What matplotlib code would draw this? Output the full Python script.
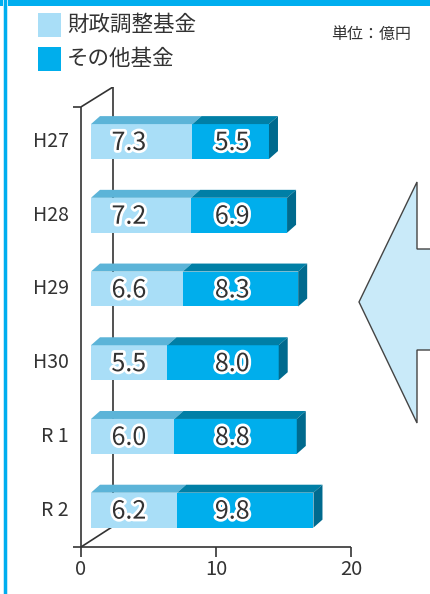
import matplotlib
matplotlib.use("Agg")
import matplotlib.pyplot as plt
from matplotlib.patches import Rectangle, Polygon
import matplotlib.patheffects as pe

plt.rcParams['font.family'] = ['Noto Sans CJK JP', 'DejaVu Sans']

# data (億円)
years = ['H27', 'H28', 'H29', 'H30', 'R 1', 'R 2']
zaisei = [7.3, 7.2, 6.6, 5.5, 6.0, 6.2]     # 財政調整基金
sonota = [5.5, 6.9, 8.3, 8.0, 8.8, 9.8]     # その他基金
series_names = ['財政調整基金', 'その他基金']
xticks = [0, 10, 20]

# colours
light_front = '#a9def7'
light_top = '#5cb4d8'
dark_front = '#00aeec'
dark_top = '#007fa6'
dark_side = '#006a8e'
frame_blue = '#00aeef'
ink = '#333333'

W, H = 430, 594
fig = plt.figure(figsize=(W / 100, H / 100), dpi=100)

# pixel helper for placing axes
def fx(px):
    return px / W

def fy(py):
    return 1 - py / H

# main chart axes: x 0..20 -> px 81..351, y from px 87 (top) to 547 (bottom)
ax = fig.add_axes([fx(81), fy(547), fx(351) - fx(81), fy(87) - fy(547)])
ax.set_xlim(0, 20)
ax.set_ylim(5.5, -0.74)
ax.axis('off')

x0 = 0.74          # front face start
dx, dy = 0.667, 0.108   # depth offset
bh = 0.474         # bar thickness
persp = 1.03       # perspective scale at bar depth
wall_x = 2.37

# 3D frame lines
lk = dict(color=ink, lw=1.2, solid_capstyle='butt', zorder=1)
ax.plot([wall_x, wall_x], [-0.74, 5.22], **lk)
ax.plot([0, wall_x], [-0.47, -0.74], **lk)
ax.plot([0, wall_x], [5.5, 5.22], **lk)
ax.plot([0, 0], [-0.47, 5.5], clip_on=False, **lk)
ax.plot([-0.6, 0], [-0.47, -0.47], clip_on=False, **lk)
ax.plot([-0.6, 20], [5.5, 5.5], clip_on=False, **lk)
for t in xticks:
    ax.plot([t, t], [5.5, 5.5 + 0.135], clip_on=False, **lk)
    ax.text(t, 5.8, str(t), ha='center', va='center', fontsize=14.5, color=ink)

for i, (a, b) in enumerate(zip(zaisei, sonota)):
    yt = i - bh / 2
    segs = [(x0, a * persp, light_front, light_top),
            (x0 + a * persp, b * persp, dark_front, dark_top)]
    for s, w, cf, ct in segs:
        ax.add_patch(Rectangle((s, yt), w, bh, facecolor=cf, edgecolor='none', zorder=3))
        ax.add_patch(Polygon([(s, yt), (s + w, yt), (s + w + dx, yt - dy), (s + dx, yt - dy)],
                             closed=True, facecolor=ct, edgecolor='none', zorder=3))
    xe = x0 + (a + b) * persp
    ax.add_patch(Polygon([(xe, yt), (xe + dx, yt - dy), (xe + dx, yt + bh - dy), (xe, yt + bh)],
                         closed=True, facecolor=dark_side, edgecolor='none', zorder=3))
    fx_ = [pe.withStroke(linewidth=4, foreground='white')]
    ax.text(3.55, i + 0.02, f'{a:.1f}', ha='center', va='center', fontsize=18,
            color=ink, path_effects=fx_, zorder=5)
    ax.text(11.2, i + 0.02, f'{b:.1f}', ha='center', va='center', fontsize=18,
            color=ink, path_effects=fx_, zorder=5)
    ax.text(-0.9, i, years[i], ha='right', va='center', fontsize=14, color=ink)

# overlay in pixel coordinates for frame, legend, arrow
ov = fig.add_axes([0, 0, 1, 1], zorder=-1)
ov.set_xlim(0, W)
ov.set_ylim(H, 0)
ov.axis('off')
ov.add_patch(Rectangle((0, 0), W, 6, facecolor=frame_blue, edgecolor='none'))
ov.add_patch(Rectangle((3, 0), 5, H, facecolor='#bfe9fb', edgecolor='none'))
ov.add_patch(Rectangle((4, 0), 3, H, facecolor=frame_blue, edgecolor='none'))

for k, (name, col) in enumerate(zip(series_names, [light_front, dark_front])):
    y = 13 + k * 34
    ov.add_patch(Rectangle((38, y), 23, 24, facecolor=col, edgecolor='none'))
    ov.text(67, y + 12, name, ha='left', va='center', fontsize=15.5, color=ink)
ov.text(411, 34, '単位：億円', ha='right', va='center', fontsize=11.5, color=ink)

arrow = [(359, 302), (417, 182), (417, 249), (432, 249), (432, 350),
         (417, 350), (417, 423)]
ov.add_patch(Polygon(arrow, closed=True, facecolor='#c9eaf9', edgecolor='#444444', lw=1.0))

fig.savefig('out.png', dpi=100)
